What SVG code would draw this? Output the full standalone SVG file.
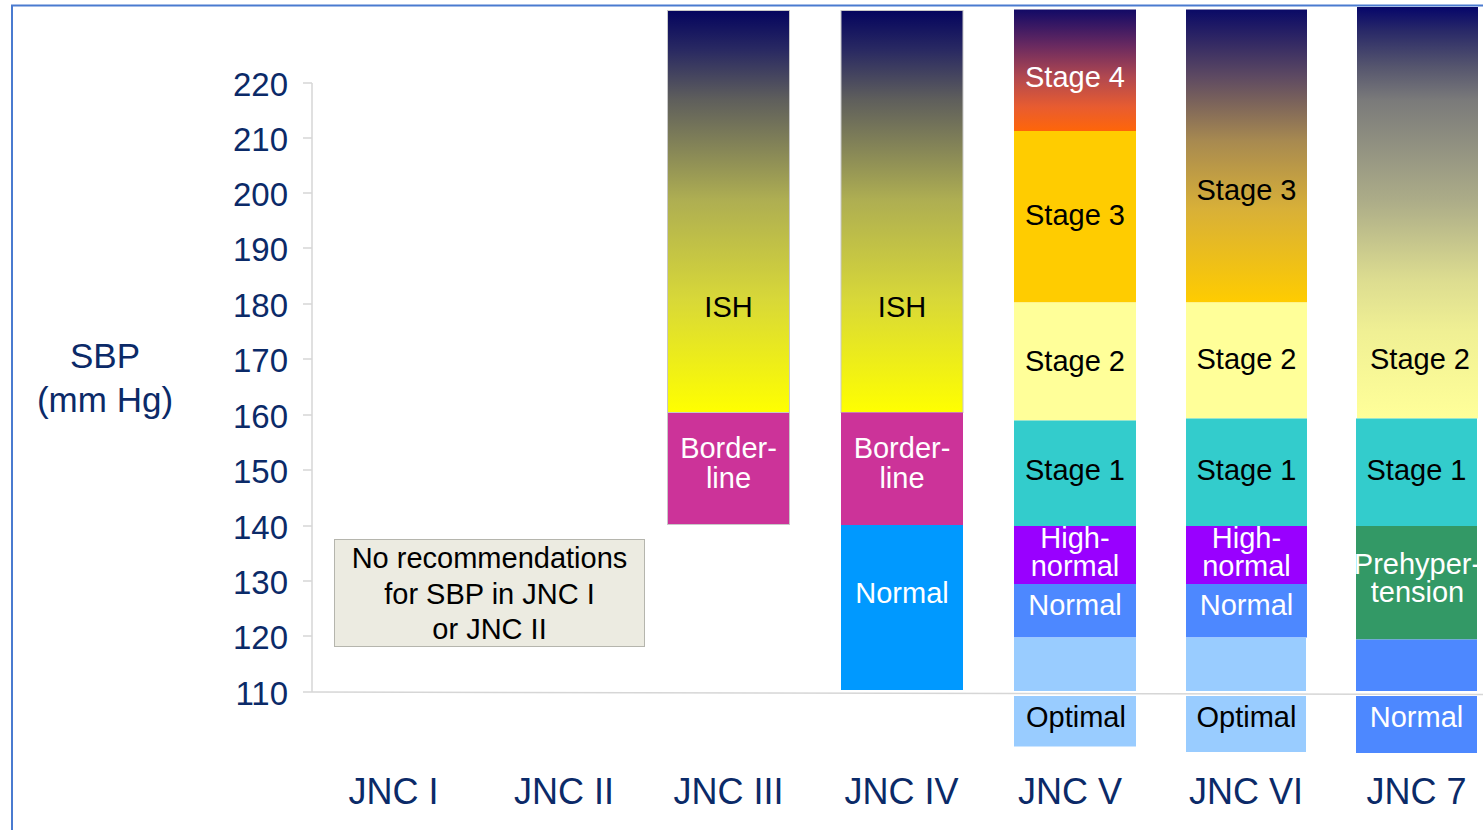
<svg xmlns="http://www.w3.org/2000/svg" width="1483" height="830" viewBox="0 0 1483 830">
<style>
.ax{font-family:"Liberation Sans",Arial,sans-serif;fill:#0b2a68;}
.yl{font-size:33px;text-anchor:end;}
.xl{font-size:36px;text-anchor:middle;}
.t{font-family:"Liberation Sans",Arial,sans-serif;font-size:29px;text-anchor:middle;}
.k{fill:#000;}
.w{fill:#fff;}
.grid{stroke:#d6d6d6;stroke-width:1.5;fill:none;}
.bar{stroke:#c8c8c8;stroke-width:1;}
</style>
<defs>
<linearGradient id="gISH" x1="0" y1="0" x2="0" y2="1">
<stop offset="0" stop-color="#04045e"/>
<stop offset="0.1" stop-color="#2a2a62"/>
<stop offset="0.22" stop-color="#5e5e5c"/>
<stop offset="0.47" stop-color="#aeae52"/>
<stop offset="0.72" stop-color="#d8d838"/>
<stop offset="1" stop-color="#ffff00"/>
</linearGradient>
<linearGradient id="gS4" x1="0" y1="0" x2="0" y2="1">
<stop offset="0" stop-color="#120a66"/>
<stop offset="0.3" stop-color="#6a2a60"/>
<stop offset="0.55" stop-color="#b04850"/>
<stop offset="0.8" stop-color="#e85c30"/>
<stop offset="1" stop-color="#ff6608"/>
</linearGradient>
<linearGradient id="gS3" x1="0" y1="0" x2="0" y2="1">
<stop offset="0" stop-color="#0a0a66"/>
<stop offset="0.23" stop-color="#5e4a62"/>
<stop offset="0.45" stop-color="#a88a50"/>
<stop offset="0.68" stop-color="#d8b038"/>
<stop offset="1" stop-color="#ffcc00"/>
</linearGradient>
<linearGradient id="gS2" x1="0" y1="0" x2="0" y2="1">
<stop offset="0" stop-color="#06066a"/>
<stop offset="0.06" stop-color="#2a2a68"/>
<stop offset="0.146" stop-color="#56566e"/>
<stop offset="0.226" stop-color="#7a7a7a"/>
<stop offset="0.39" stop-color="#9c9c84"/>
<stop offset="0.47" stop-color="#acac88"/>
<stop offset="0.66" stop-color="#dcdc90"/>
<stop offset="0.79" stop-color="#f0f094"/>
<stop offset="1" stop-color="#ffff99"/>
</linearGradient>
</defs>

<rect x="0" y="0" width="1483" height="830" fill="#fff"/>
<g id="frame" fill="none" stroke="#4a7bd0" stroke-width="2">
<path d="M12 830 V5.5 H1483"/>
</g>

<g id="axis">
<path class="grid" d="M312 83 V692"/>
<path class="grid" d="M303 83 H312 M303 138 H312 M303 193 H312 M303 248 H312 M303 304 H312 M303 359 H312 M303 415 H312 M303 470 H312 M303 526 H312 M303 581 H312 M303 636 H312 M303 692 H312"/>
<g class="ax yl">
<text x="288" y="96">220</text>
<text x="288" y="151">210</text>
<text x="288" y="206">200</text>
<text x="288" y="261">190</text>
<text x="288" y="317">180</text>
<text x="288" y="372">170</text>
<text x="288" y="428">160</text>
<text x="288" y="483">150</text>
<text x="288" y="539">140</text>
<text x="288" y="594">130</text>
<text x="288" y="649">120</text>
<text x="288" y="705">110</text>
</g>
<g class="ax" font-size="35" text-anchor="middle">
<text x="105" y="368">SBP</text>
<text x="105" y="412">(mm Hg)</text>
</g>
</g>

<g id="note">
<rect x="334.5" y="539.5" width="310" height="107" fill="#ecebe1" stroke="#b5b5ad" stroke-width="1"/>
<text class="t k" x="489.5" y="568">No recommendations</text>
<text class="t k" x="489.5" y="603.5">for SBP in JNC I</text>
<text class="t k" x="489.5" y="638.5">or JNC II</text>
</g>

<g id="jnc3">
<rect class="bar" x="667.5" y="10.5" width="122" height="402" fill="url(#gISH)"/>
<rect class="bar" x="667.5" y="412.5" width="122" height="112" fill="#cc3399"/>
<text class="t k" x="728.5" y="317">ISH</text>
<text class="t w" x="728.5" y="458">Border-</text>
<text class="t w" x="728.5" y="488">line</text>
</g>

<g id="jnc4">
<rect class="bar" x="841" y="10.5" width="122" height="402" fill="url(#gISH)"/>
<rect x="841" y="412.5" width="122" height="112.5" fill="#cc3399"/>
<rect x="841" y="525" width="122" height="165" fill="#0099ff"/>
<text class="t k" x="902" y="317">ISH</text>
<text class="t w" x="902" y="458">Border-</text>
<text class="t w" x="902" y="488">line</text>
<text class="t w" x="902" y="603">Normal</text>
</g>

<g id="jnc5">
<rect x="1014" y="9.5" width="122" height="122" fill="url(#gS4)"/>
<rect x="1014" y="131" width="122" height="171.5" fill="#ffcc00"/>
<rect x="1014" y="302.5" width="122" height="118" fill="#ffff99"/>
<rect x="1014" y="420.5" width="122" height="105.5" fill="#33cccc"/>
<rect x="1014" y="526" width="122" height="58" fill="#9900ff"/>
<rect x="1014" y="584" width="122" height="53.5" fill="#4d88ff"/>
<rect x="1014" y="637.5" width="122" height="53.5" fill="#99ccff"/>
<rect x="1014" y="696" width="122" height="50.5" fill="#99ccff"/>
<text class="t w" x="1075" y="87">Stage 4</text>
<text class="t k" x="1075" y="225">Stage 3</text>
<text class="t k" x="1075" y="370.5">Stage 2</text>
<text class="t k" x="1075" y="480">Stage 1</text>
<text class="t w" x="1075" y="548">High-</text>
<text class="t w" x="1075" y="576">normal</text>
<text class="t w" x="1075" y="615">Normal</text>
<text class="t k" x="1076" y="726.5">Optimal</text>
</g>

<g id="jnc6">
<rect x="1186" y="9.5" width="121" height="293" fill="url(#gS3)"/>
<rect x="1186" y="302.5" width="121" height="116" fill="#ffff99"/>
<rect x="1186" y="418.5" width="121" height="107.5" fill="#33cccc"/>
<rect x="1186" y="526" width="121" height="58" fill="#9900ff"/>
<rect x="1186" y="584" width="121" height="53.5" fill="#4d88ff"/>
<rect x="1186" y="637.5" width="120" height="53.5" fill="#99ccff"/>
<rect x="1186" y="696" width="120" height="56" fill="#99ccff"/>
<text class="t k" x="1246.5" y="200">Stage 3</text>
<text class="t k" x="1246.5" y="368.5">Stage 2</text>
<text class="t k" x="1246.5" y="480">Stage 1</text>
<text class="t w" x="1246.5" y="548">High-</text>
<text class="t w" x="1246.5" y="576">normal</text>
<text class="t w" x="1246.5" y="615">Normal</text>
<text class="t k" x="1246.5" y="726.5">Optimal</text>
</g>

<g id="jnc7">
<rect x="1357" y="7" width="121" height="411.5" fill="url(#gS2)"/>
<rect x="1356" y="418.5" width="121" height="107.5" fill="#33cccc"/>
<rect x="1356" y="526" width="121" height="113.5" fill="#339966"/>
<rect x="1356" y="639.5" width="121" height="51.5" fill="#4d88ff"/>
<rect x="1356" y="696" width="121" height="57" fill="#4d88ff"/>
<text class="t k" x="1420" y="368.5">Stage 2</text>
<text class="t k" x="1416.5" y="480">Stage 1</text>
<text class="t w" x="1417.5" y="574">Prehyper-</text>
<text class="t w" x="1417.5" y="601.5">tension</text>
<text class="t w" x="1416.5" y="726.5">Normal</text>
</g>

<g id="connectors">
<path class="grid" d="M312 692 L1483 694.5"/>
</g>

<g id="xlabels" class="ax xl">
<text x="393.5" y="804">JNC I</text>
<text x="564" y="804">JNC II</text>
<text x="728.5" y="804">JNC III</text>
<text x="901.5" y="804">JNC IV</text>
<text x="1070" y="804">JNC V</text>
<text x="1246" y="804">JNC VI</text>
<text x="1416.5" y="804">JNC 7</text>
</g>
</svg>
